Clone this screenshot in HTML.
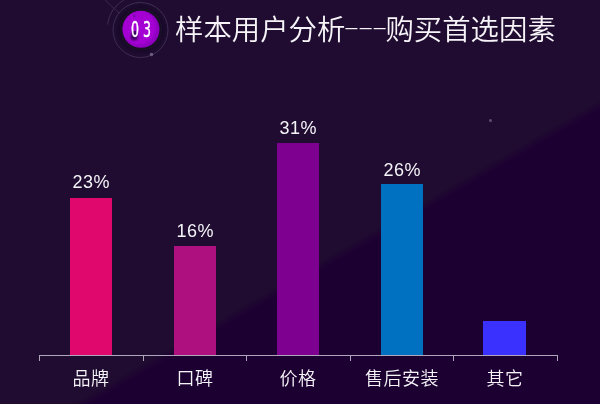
<!DOCTYPE html>
<html lang="zh-CN">
<head>
<meta charset="utf-8">
<title>样本用户分析---购买首选因素</title>
<style>
html, body { margin: 0; padding: 0; }
html { background: #1f0c30; }
body {
  width: 600px; height: 404px; overflow: hidden; position: relative;
  background: linear-gradient(150deg, #1f0c30 0%, #1f0c30 59.4%, #1d0032 60.8%, #1d0032 100%);
  font-family: "Liberation Sans", "Noto Sans CJK SC", sans-serif;
  color: #f4f4f8;
}
.abs { position: absolute; }
#deco { position: absolute; left: 0; top: 0; }
.title {
  position: absolute; left: 175px; top: 12px; white-space: nowrap;
  font-family: "Liberation Sans", "Noto Sans CJK SC", sans-serif;
  font-size: 28.4px; line-height: 36px; color: #f6f4f8; font-weight: 350;
}
.dash { font-family: "Liberation Sans", sans-serif; font-size: 49px; line-height: 10px; letter-spacing: -2.3px; font-weight: 400; display: inline-block; transform: scaleY(0.3); position: relative; top: 4.6px; margin-left: -2px; margin-right: 0px; }
.num {
  position: absolute; left: 130.9px; top: 16.6px; width: 40px; height: 26px;
  font-family: "DejaVu Sans", sans-serif; font-size: 21px; line-height: 26px;
  color: #fff; transform: scaleX(0.6); transform-origin: 0 0; letter-spacing: 6.8px;
  white-space: nowrap; -webkit-text-stroke: 0.5px #fff;
}
.bar { position: absolute; width: 42px; }
.pct {
  position: absolute; width: 80px; text-align: center;
  font-family: "Liberation Sans", sans-serif; font-size: 18px; line-height: 20px; color: #f4f4f8; letter-spacing: 0.6px;
}
.axis { position: absolute; left: 39px; top: 355px; width: 519px; height: 1px; background: #b0a6bc; }
.tick { position: absolute; top: 355px; width: 1px; height: 6px; background: #b0a6bc; }
.lab {
  position: absolute; top: 367.1px; width: 100px; text-align: center; letter-spacing: 0.5px;
  font-family: "Liberation Sans", "Noto Sans CJK SC", sans-serif; font-size: 18px; line-height: 24px;
  color: #f4f4f8; white-space: nowrap; font-weight: 350;
}
</style>
</head>
<body>
<svg id="deco" width="600" height="404" viewBox="0 0 600 404">
  <defs>
    <clipPath id="sc"><circle cx="141" cy="29.3" r="18.5"/></clipPath>
    <filter id="bl" x="-20%" y="-20%" width="140%" height="140%"><feGaussianBlur stdDeviation="1.2"/></filter>
    <filter id="bl2" x="-50%" y="-50%" width="200%" height="200%"><feGaussianBlur stdDeviation="2"/></filter>
  </defs>
  <!-- outer partial arc -->
  <path d="M107.5 24.5 A34 34 0 0 1 124.5 -0.5" fill="none" stroke="#3e2c52" stroke-width="1"/>
  <line x1="105" y1="0" x2="119" y2="13" stroke="#3a2a4e" stroke-width="1"/>
  <!-- ring -->
  <circle cx="140.5" cy="30" r="27.5" fill="none" stroke="#3e2c54" stroke-width="1"/>
  <circle cx="141" cy="29.3" r="21.5" fill="#170a24" filter="url(#bl2)"/>
  <circle cx="141" cy="29.3" r="18.5" fill="#8e00c0"/>
  <g clip-path="url(#sc)">
    <circle cx="138.8" cy="27.8" r="17" fill="#a404d4" filter="url(#bl)"/>
    <circle cx="134.5" cy="16" r="1.6" fill="#8208b8"/>
    <ellipse cx="134.2" cy="37" rx="3.6" ry="3.4" fill="#3c0062" filter="url(#bl)"/>
  </g>
  <rect x="131.8" y="31" width="4.6" height="5" fill="#3a0060"/>
  <circle cx="151.5" cy="54.5" r="1.8" fill="#6a5a7e"/>
  <!-- star dot -->
  <circle cx="490.5" cy="120.5" r="1.5" fill="#5e4e76"/>
</svg>
<div class="num">03</div>
<div class="title">样本用户分析<span class="dash">---</span>购买首选因素</div>

<div class="bar" style="left:70px;top:198px;height:157px;background:#e0086c"></div>
<div class="bar" style="left:174px;top:246px;height:109px;background:#ae1080"></div>
<div class="bar" style="left:277px;top:143px;height:212px;background:#7e0090"></div>
<div class="bar" style="left:381px;top:184px;height:171px;background:#0070c0"></div>
<div class="bar" style="left:483px;width:43px;top:321px;height:34px;background:#3a31fe"></div>

<div class="pct" style="left:51.3px;top:172.3px">23%</div>
<div class="pct" style="left:155.3px;top:220.6px">16%</div>
<div class="pct" style="left:258.3px;top:118.4px">31%</div>
<div class="pct" style="left:362.3px;top:159.5px">26%</div>

<div class="axis"></div>
<div class="tick" style="left:39px"></div>
<div class="tick" style="left:143px"></div>
<div class="tick" style="left:246px"></div>
<div class="tick" style="left:350px"></div>
<div class="tick" style="left:453px"></div>
<div class="tick" style="left:557px"></div>

<div class="lab" style="left:41px">品牌</div>
<div class="lab" style="left:145px">口碑</div>
<div class="lab" style="left:248px">价格</div>
<div class="lab" style="left:352px">售后安装</div>
<div class="lab" style="left:455px">其它</div>
</body>
</html>
